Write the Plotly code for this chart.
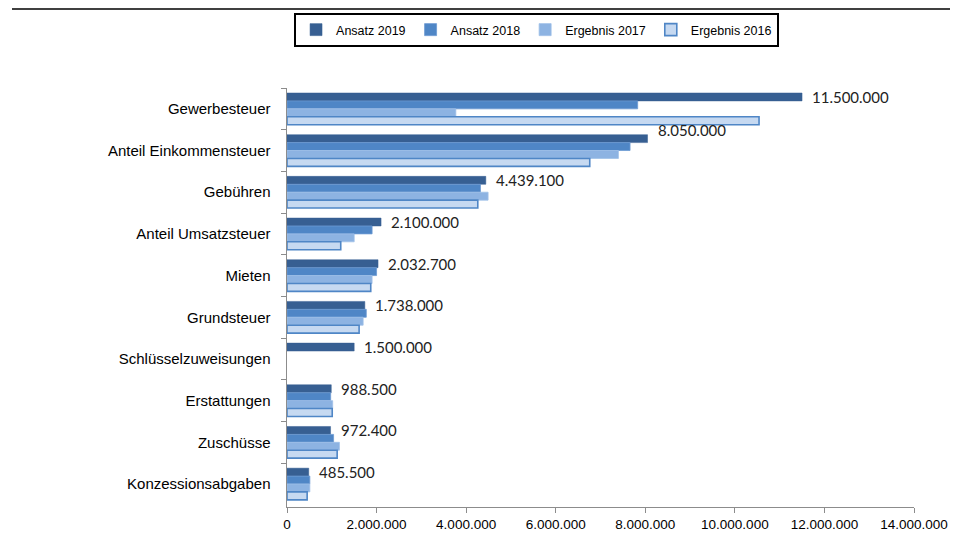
import plotly.graph_objects as go

categories = ["Gewerbesteuer", "Anteil Einkommensteuer", "Gebühren", "Anteil Umsatzsteuer",
              "Mieten", "Grundsteuer", "Schlüsselzuweisungen", "Erstattungen", "Zuschüsse",
              "Konzessionsabgaben"]
ansatz_2019 = [11500000, 8050000, 4439100, 2100000, 2032700, 1738000, 1500000, 988500, 972400, 485500]
ansatz_2018 = [7830000, 7660000, 4320000, 1900000, 2000000, 1770000, None, 975000, 1040000, 510000]
ergebnis_2017 = [3770000, 7400000, 4490000, 1500000, 1900000, 1700000, None, 1020000, 1170000, 510000]
ergebnis_2016 = [10540000, 6760000, 4260000, 1200000, 1870000, 1610000, None, 1010000, 1120000, 450000]
x_ticks = [0, 2000000, 4000000, 6000000, 8000000, 10000000, 12000000, 14000000]

series = [
    ("Ansatz 2019", ansatz_2019, "#375f92", "#375f92", 0.5),
    ("Ansatz 2018", ansatz_2018, "#4f86c6", "#6d9bd3", 0.8),
    ("Ergebnis 2017", ergebnis_2017, "#8db3e2", "#9fc0e8", 0.8),
    ("Ergebnis 2016", ergebnis_2016, "#c6d9f1", "#4f86c6", 1.6),
]

fig = go.Figure()
for name, vals, fill, border, lw in series:
    fig.add_trace(go.Bar(
        y=categories, x=vals, name=name, orientation="h",
        marker=dict(color=fill, line=dict(color=border, width=lw)),
        hoverinfo="skip",
    ))

def fmt(v):
    return f"{v:,}".replace(",", ".")

# label placement style (one label sits higher in the original)
label_yshift_style = {"Anteil Einkommensteuer": 21}

for cat, v in zip(categories, ansatz_2019):
    fig.add_annotation(x=v, y=cat, xref="x", yref="y", text=fmt(v), showarrow=False,
                       xanchor="left", xshift=8, yshift=label_yshift_style.get(cat, 12),
                       font=dict(family="Lato, Open Sans, sans-serif", size=15, color="#222"))

fig.add_shape(type="line", xref="paper", yref="paper",
              x0=-275/627, x1=679/627, y0=1 + 79/419, y1=1 + 79/419,
              line=dict(color="black", width=1.5))

fig.update_layout(
    width=958, height=550,
    margin=dict(l=279, r=52, t=80, b=51, autoexpand=False),
    paper_bgcolor="white", plot_bgcolor="white",
    barmode="group", bargap=0.24, bargroupgap=0,
    separators=",.",
    font=dict(family="Liberation Sans, Arial, sans-serif", size=13, color="black"),
    legend=dict(orientation="h", x=0.398, xanchor="center", y=1 + 41/419, yanchor="bottom",
                bordercolor="black", borderwidth=2, bgcolor="white",
                font=dict(size=12.5), traceorder="normal", itemwidth=30),
    xaxis=dict(range=[0, 14000000], tickvals=x_ticks, ticktext=[fmt(t) for t in x_ticks],
               showgrid=False, zeroline=False, showline=True, linecolor="#8c8c8c", linewidth=1,
               ticks="outside", ticklen=5, tickcolor="#8c8c8c", automargin=False,
               tickfont=dict(family="Liberation Sans Narrow, Arial Narrow, sans-serif", size=13.5)),
    yaxis=dict(autorange="reversed", showgrid=False, showline=True, linecolor="#8c8c8c",
               linewidth=1, ticks="outside", ticklen=5, tickcolor="#8c8c8c", tickson="boundaries",
               tickfont=dict(size=15), ticksuffix="   ", automargin=False),
)

fig.write_html("out.html")
